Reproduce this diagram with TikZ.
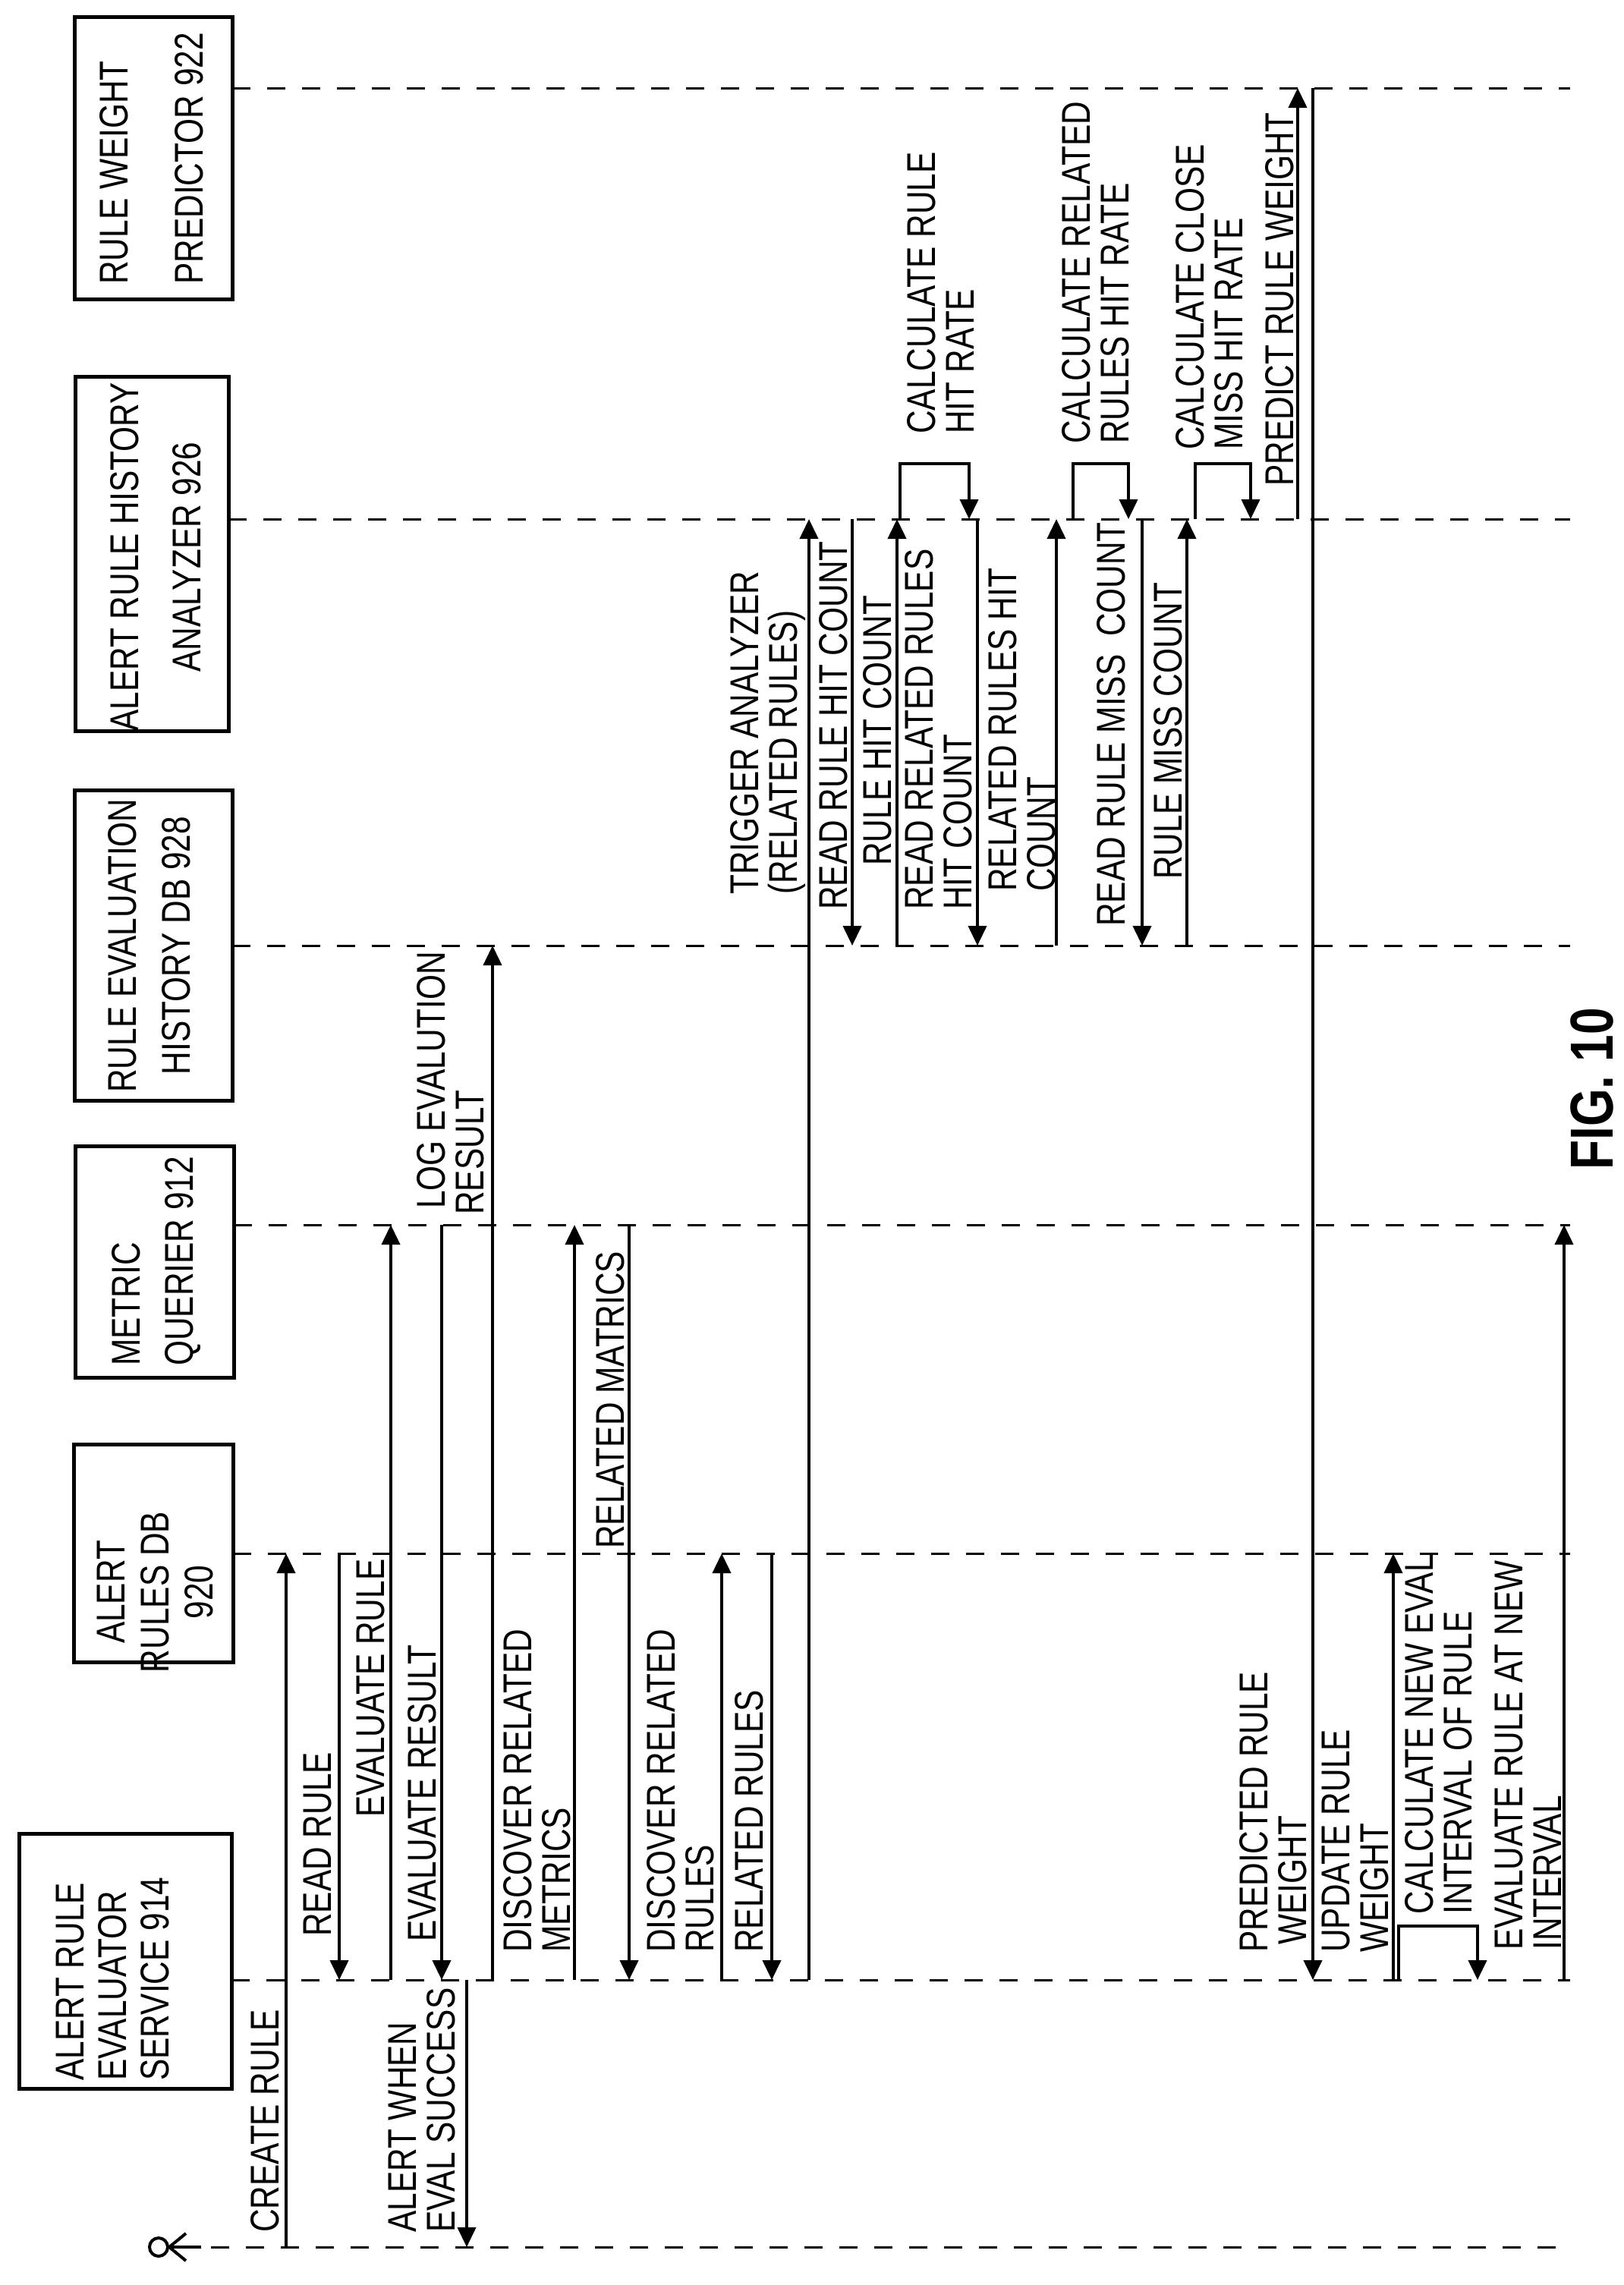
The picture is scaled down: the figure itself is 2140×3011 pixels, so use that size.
\documentclass[tikz,border=0pt]{standalone}
\usepackage{fontspec}
\setmainfont{Liberation Sans}[FakeStretch=0.8]
\usetikzlibrary{arrows.meta}
\begin{document}
\begin{tikzpicture}[x=0.5pt,y=-0.5pt,
  lifeline/.style={line width=1.5pt,dash pattern=on 12pt off 11pt},
  msg/.style={line width=2pt,-{Triangle[length=13pt,width=12pt]}},
  boxst/.style={draw,line width=2.5pt,inner sep=0pt},
  lab/.style={rotate=90,anchor=north west,inner sep=0pt,align=left,font=\fontsize{26.5}{25.5}\selectfont},
  btext/.style={rotate=90,inner sep=0pt}]
\useasboundingbox (0,0) rectangle (2140,3011);
% boxes
\node[boxst,minimum width=104pt,minimum height=186pt] (pred) at (202,208) {};
\node[boxst,minimum width=101pt,minimum height=233.5pt] (anal) at (200,729.5) {};
\node[boxst,minimum width=104pt,minimum height=204.5pt] (hdb) at (202,1245.5) {};
\node[boxst,minimum width=104.5pt,minimum height=152.5pt] (mq) at (203.5,1662.5) {};
\node[boxst,minimum width=105pt,minimum height=143.5pt] (rdb) at (202,2046.5) {};
\node[boxst,minimum width=140pt,minimum height=168pt] (eval) at (165,2584) {};
% box texts
\node[btext,anchor=north west,align=left,font=\fontsize{26.5}{49.5}\selectfont] (tpred) at (131,375) {RULE WEIGHT\\PREDICTOR 922};
\node[btext,anchor=center,align=center,font=\fontsize{26.5}{41}\selectfont] (tanal) at (205,734) {ALERT RULE HISTORY\\ANALYZER 926};
\node[btext,anchor=center,align=center,font=\fontsize{26.5}{35.5}\selectfont] (thdb) at (197,1246) {RULE EVALUATION\\HISTORY DB 928};
\node[btext,anchor=north west,align=left,font=\fontsize{26.5}{35}\selectfont] (tmq) at (147,1800) {METRIC\\QUERIER 912};
\node[btext,anchor=center,align=center,font=\fontsize{26.5}{29}\selectfont] (trdb) at (205,2098) {ALERT\\RULES DB\\920};
\node[btext,anchor=north west,align=left,font=\fontsize{26.5}{28}\selectfont] (teval) at (74,2742) {ALERT RULE\\EVALUATOR\\SERVICE 914};
% actor
\node[draw,circle,line width=2pt,minimum size=12pt,inner sep=0pt] (actor) at (209,2961) {};
\coordinate (av) at (223,2961);
\draw[line width=2pt] (actor.east) -- (265,2961);
\draw[line width=2pt] (245,2943) -- (av) -- (245,2979);
% lifelines
\coordinate (Lpred) at (306,116);   \coordinate (Rpred) at (2069,116);
\coordinate (Lanal) at (301,684);   \coordinate (Ranal) at (2069,684);
\coordinate (Lhdb) at (306,1246);   \coordinate (Rhdb) at (2069,1246);
\coordinate (Lmq) at (308,1614);    \coordinate (Rmq) at (2069,1614);
\coordinate (Lrdb) at (307,2047);   \coordinate (Rrdb) at (2069,2047);
\coordinate (Leval) at (305,2609);  \coordinate (Reval) at (2069,2609);
\coordinate (Lact) at (278,2961);   \coordinate (Ract) at (2069,2961);
\foreach \n in {pred,anal,hdb,mq,rdb,eval,act} \draw[lifeline] (L\n) -- (R\n);
% messages
\draw[msg] (377,2961) -- (377,2047);
\draw[msg] (447,2047) -- (447,2609);
\draw[msg] (515,2609) -- (515,1614);
\draw[msg] (582,1614) -- (582,2609);
\draw[msg] (615,2609) -- (615,2961);
\draw[msg] (649,2609) -- (649,1246);
\draw[msg] (757,2609) -- (757,1614);
\draw[msg] (829,1614) -- (829,2609);
\draw[msg] (951,2609) -- (951,2047);
\draw[msg] (1017,2047) -- (1017,2609);
\draw[msg] (1066,2609) -- (1066,684);
\draw[msg] (1123,684) -- (1123,1246);
\draw[msg] (1182,1246) -- (1182,684);
\draw[msg] (1186,684) |- (1277,611) -- (1277,684);
\draw[msg] (1288,684) -- (1288,1246);
\draw[msg] (1392,1246) -- (1392,684);
\draw[msg] (1414,684) |- (1487,611) -- (1487,684);
\draw[msg] (1505,684) -- (1505,1246);
\draw[msg] (1564,1246) -- (1564,684);
\draw[msg] (1575,684) |- (1648,611) -- (1648,684);
\draw[msg] (1710,684) -- (1710,116);
\draw[msg] (1730,116) -- (1730,2609);
\draw[msg] (1836,2609) -- (1836,2047);
\draw[msg] (1843,2609) |- (1947,2538) -- (1947,2609);
\draw[msg] (2061,2609) -- (2061,1614);
% labels
\node[lab] (l1) at (330,2942) {CREATE RULE};
\node[lab] (l2) at (400,2552) {READ RULE};
\node[lab] (l3) at (470,2395) {EVALUATE RULE};
\node[lab] (l4) at (537,2559) {EVALUATE RESULT};
\node[lab] (l5) at (512,2942) {ALERT WHEN\\EVAL SUCCESS};
\node[lab] (l6) at (549,1593) {LOG EVALUTION\\\hspace*{-4pt}RESULT};
\node[lab] (l7) at (663,2573) {DISCOVER RELATED\\METRICS};
\node[lab] (l8) at (785,2041) {RELATED MATRICS};
\node[lab] (l9) at (852,2573) {DISCOVER RELATED\\RULES};
\node[lab] (l10) at (968,2573) {RELATED RULES};
\node[lab] (l11) at (962,1179) {TRIGGER ANALYZER\\(RELATED RULES)};
\node[lab] (l12) at (1079,1199) {READ RULE HIT COUNT};
\node[lab] (l13) at (1137,1141) {RULE HIT COUNT};
\node[lab] (l14) at (1195,572) {CALCULATE RULE\\HIT RATE};
\node[lab] (l15) at (1192,1199) {READ RELATED RULES\\HIT COUNT};
\node[lab] (l16) at (1302,1175) {RELATED RULES HIT\\COUNT};
\node[lab] (l17) at (1399,585) {CALCULATE RELATED\\RULES HIT RATE};
\node[lab] (l18) at (1445,1221) {READ RULE MISS\ \ COUNT};
\node[lab] (l19) at (1520,1159) {RULE MISS COUNT};
\node[lab] (l20) at (1549,593) {CALCULATE CLOSE\\MISS HIT RATE};
\node[lab] (l21) at (1667,641) {PREDICT RULE WEIGHT};
\node[lab] (l22) at (1633,2573) {PREDICTED RULE\\\hspace*{5pt}WEIGHT};
\node[lab] (l23) at (1742,2573) {UPDATE RULE\\WEIGHT};
\node[lab] (l24) at (1851,2523) {CALCULATE NEW EVAL\\INTERVAL OF RULE};
\node[lab] (l25) at (1970,2570) {EVALUATE RULE AT NEW\\INTERVAL};
\node[rotate=90,inner sep=0pt,font=\fontsize{40}{40}\bfseries\selectfont] (fig) at (2098,1435) {FIG. 10};
\end{tikzpicture}
\end{document}
